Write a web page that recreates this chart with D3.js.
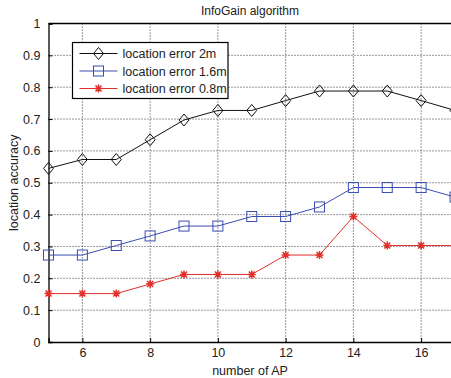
<!DOCTYPE html>
<html>
<head>
<meta charset="utf-8">
<script src="https://cdn.jsdelivr.net/npm/d3@7"></script>
<style>
  body { margin: 0; background: #fff; }
  text { font-family: "Liberation Sans", Arial, sans-serif; fill: #222; }
</style>
</head>
<body>
<div id="chart"></div>
<script>
// data
var apCounts = [5, 6, 7, 8, 9, 10, 11, 12, 13, 14, 15, 16, 17];
var err2m   = [0.545, 0.573, 0.573, 0.635, 0.697, 0.727, 0.727, 0.758, 0.788, 0.788, 0.788, 0.758, 0.727];
var err16m  = [0.273, 0.273, 0.303, 0.333, 0.364, 0.364, 0.394, 0.394, 0.424, 0.485, 0.485, 0.485, 0.455];
var err08m  = [0.152, 0.152, 0.152, 0.182, 0.212, 0.212, 0.212, 0.273, 0.273, 0.394, 0.303, 0.303, 0.303];
var seriesNames = ["location error 2m", "location error 1.6m", "location error 0.8m"];
var xTicks = [6, 8, 10, 12, 14, 16];
var yTicks = [0, 0.1, 0.2, 0.3, 0.4, 0.5, 0.6, 0.7, 0.8, 0.9, 1];

var W = 451, H = 378;
var margin = {top: 23.5, left: 48.5, bottom: 36, right: -4};
var width = W - margin.left - margin.right,
    height = H - margin.top - margin.bottom;

var svg = d3.select("#chart").append("svg")
    .attr("width", W).attr("height", H);
var g = svg.append("g")
    .attr("transform", "translate(" + margin.left + "," + margin.top + ")");

var x = d3.scaleLinear().domain([5, 17]).range([0, width]);
var y = d3.scaleLinear().domain([0, 1]).range([height, 0]);

// dotted grid
g.append("g").selectAll("line").data(xTicks).enter().append("line")
    .attr("x1", function(d) { return x(d); }).attr("x2", function(d) { return x(d); })
    .attr("y1", 0).attr("y2", height)
    .attr("stroke", "#333").attr("stroke-width", 1).attr("stroke-dasharray", "1,2");
g.append("g").selectAll("line").data(yTicks.slice(1, -1)).enter().append("line")
    .attr("x1", 0).attr("x2", width)
    .attr("y1", function(d) { return y(d); }).attr("y2", function(d) { return y(d); })
    .attr("stroke", "#333").attr("stroke-width", 1).attr("stroke-dasharray", "1,2");

// axes (ticks inside, matlab style)
var xAxis = g.append("g").attr("transform", "translate(0," + height + ")")
    .call(d3.axisBottom(x).tickValues(xTicks).tickSize(-4).tickPadding(6).tickFormat(d3.format("d")));
var yAxis = g.append("g")
    .call(d3.axisLeft(y).tickValues(yTicks).tickSize(-4).tickPadding(8).tickFormat(function(d) { return d3.format("")(+d.toFixed(1)); }));
[xAxis, yAxis].forEach(function(a) {
    a.selectAll("text").style("font-size", "12.5px").attr("fill", "#222");
    a.selectAll("line").attr("stroke", "#000");
    a.select(".domain").attr("stroke", "#000").attr("stroke-width", 1.3);
});
// top border
g.append("line").attr("x1", 0).attr("x2", width).attr("y1", 0).attr("y2", 0)
    .attr("stroke", "#000").attr("stroke-width", 1.3);

var series = [
    {name: seriesNames[0], values: err2m,  color: "#111", marker: "diamond"},
    {name: seriesNames[1], values: err16m, color: "#3a4db0", marker: "square"},
    {name: seriesNames[2], values: err08m, color: "#e0302a", marker: "star"}
];

function drawMarker(sel, type, color) {
    if (type === "diamond") {
        sel.append("path").attr("d", "M0,-6L5,0L0,6L-5,0Z")
            .attr("fill", "none").attr("stroke", color).attr("stroke-width", 1);
    } else if (type === "square") {
        sel.append("rect").attr("x", -5).attr("y", -5).attr("width", 10).attr("height", 10)
            .attr("fill", "none").attr("stroke", color).attr("stroke-width", 1);
    } else {
        sel.append("path").attr("d", "M-4,0L4,0M0,-4L0,4M-3,-3L3,3M-3,3L3,-3")
            .attr("stroke", color).attr("stroke-width", 1.5);
    }
}

var line = d3.line()
    .x(function(d, i) { return x(apCounts[i]); })
    .y(function(d) { return y(d); });

series.forEach(function(s) {
    g.append("path").datum(s.values)
        .attr("d", line)
        .attr("fill", "none").attr("stroke", s.color).attr("stroke-width", 1);
    s.values.forEach(function(v, i) {
        var m = g.append("g").attr("transform", "translate(" + x(apCounts[i]) + "," + y(v) + ")");
        drawMarker(m, s.marker, s.color);
    });
});

// legend
var lg = svg.append("g").attr("transform", "translate(72.5,42.5)");
lg.append("rect").attr("width", 155.5).attr("height", 56)
    .attr("fill", "#fff").attr("stroke", "#000").attr("stroke-width", 1.2);
series.forEach(function(s, i) {
    var yy = 11 + i * 17.5;
    lg.append("line").attr("x1", 7).attr("x2", 45).attr("y1", yy).attr("y2", yy)
        .attr("stroke", s.color).attr("stroke-width", 1);
    drawMarker(lg.append("g").attr("transform", "translate(26," + yy + ")"), s.marker, s.color);
    lg.append("text").attr("x", 50).attr("y", yy + 4.5)
        .style("font-size", "12.5px").text(s.name);
});

// title and axis labels
svg.append("text").attr("x", 250).attr("y", 15).attr("text-anchor", "middle")
    .style("font-size", "12px").text("InfoGain algorithm");
svg.append("text").attr("x", 250).attr("y", 375).attr("text-anchor", "middle")
    .style("font-size", "12.5px").text("number of AP");
svg.append("text").attr("transform", "translate(18," + (margin.top + height / 2) + ") rotate(-90)")
    .attr("text-anchor", "middle").style("font-size", "12.5px").text("location accuracy");
</script>
</body>
</html>
